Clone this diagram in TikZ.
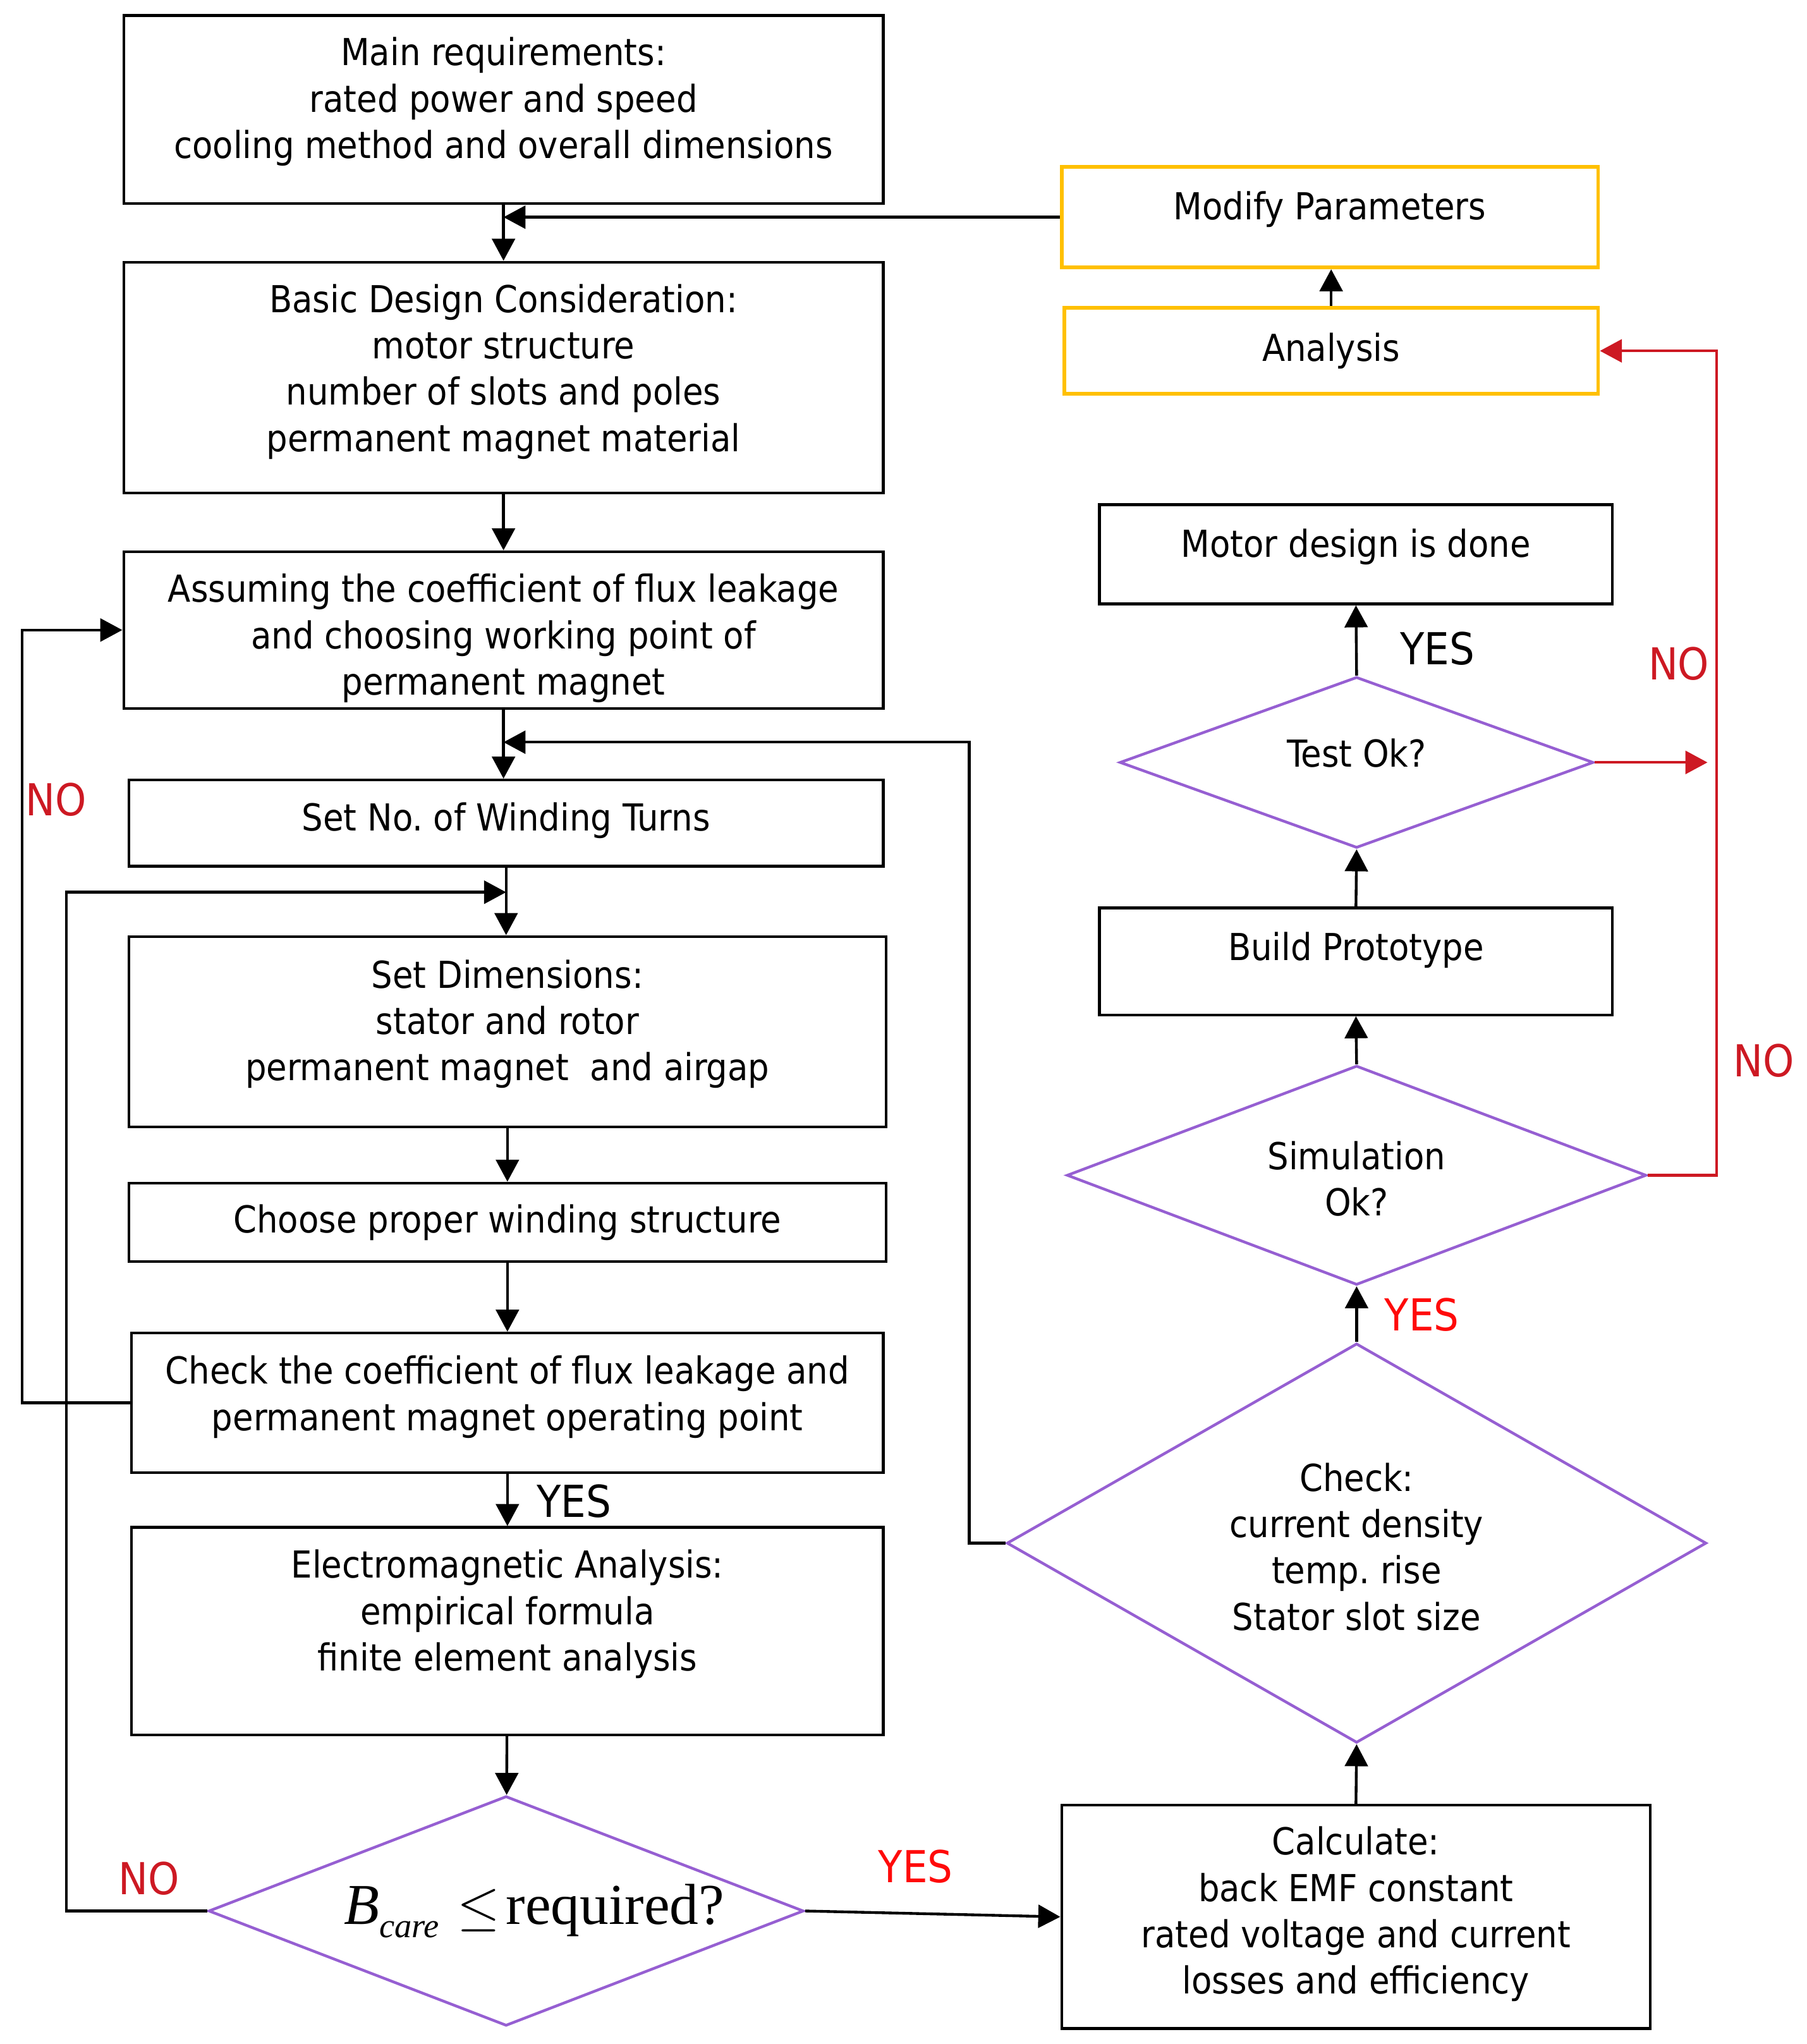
\documentclass[tikz,border=0pt]{standalone}
\usepackage{fontspec}
\setmainfont{DejaVu Sans Condensed}
\newfontfamily\timesfont{Liberation Serif}
\usetikzlibrary{shapes.geometric,arrows.meta}
\definecolor{Purp}{RGB}{150,95,210}
\definecolor{Gold}{RGB}{255,192,0}
\definecolor{Darkred}{RGB}{205,25,35}
\definecolor{Brightred}{RGB}{255,10,10}
\newcommand{\boxfont}{\fontsize{8.1}{10.1}\selectfont}
\newcommand{\lblfont}{\fontsize{9.6}{11}\selectfont}
\newcommand{\drawarrow}{\draw[-{Triangle[length=4.8pt,width=5pt]},line width=0.6pt]}

\begin{document}
\frenchspacing
\begin{tikzpicture}[x=0.01cm,y=-0.01cm,
  blk/.style={draw, line width=0.6pt, inner sep=0pt},
  ylw/.style={blk, draw=Gold, line width=0.8pt},
  dmd/.style={diamond, draw=Purp, line width=0.6pt, inner sep=0pt},
  txt/.style={align=center, inner sep=0pt, font=\boxfont},
  lbl/.style={font=\lblfont, inner sep=0pt}]
\useasboundingbox (0,0) rectangle (1385,1567);
% left column
\node[blk, minimum width=5.82cm, minimum height=1.44cm, label={[txt,yshift=1.7pt]center:{Main requirements:\\rated power and speed\\cooling method and overall dimensions}}] (req) at (386,84) {};
\node[blk, minimum width=5.82cm, minimum height=1.77cm, label={[txt,yshift=1.3pt]center:{Basic Design Consideration:\\motor structure\\number of slots and poles\\permanent magnet material}}] (basic) at (386,289.5) {};
\node[blk, minimum width=5.82cm, minimum height=1.20cm, label={[txt,yshift=-1.8pt]center:{Assuming the coefficient of flux leakage\\and choosing working point of\\permanent magnet}}] (assume) at (386,483) {};
\node[blk, minimum width=5.78cm, minimum height=0.66cm, label={[txt,yshift=0.6pt]center:{Set No. of Winding Turns}}] (turns) at (388,631) {};
\node[blk, minimum width=5.80cm, minimum height=1.46cm, label={[txt,yshift=1.7pt]center:{Set Dimensions:\\stator and rotor\\permanent magnet~ and airgap}}] (dims) at (389,791) {};
\node[blk, minimum width=5.80cm, minimum height=0.60cm, label={[txt]center:{Choose proper winding structure}}] (wind) at (389,937) {};
\node[blk, minimum width=5.76cm, minimum height=1.07cm, label={[txt,yshift=1.3pt]center:{Check the coefficient of flux leakage and\\permanent magnet operating point}}] (chk) at (389,1075.5) {};
\node[blk, minimum width=5.76cm, minimum height=1.59cm, label={[txt,yshift=3.7pt]center:{Electromagnetic Analysis:\\empirical formula\\finite element analysis}}] (em) at (389,1250.5) {};
\node[dmd, minimum width=4.56cm, minimum height=1.76cm, label={[txt,xshift=0.215cm]center:{\timesfont\fontsize{12.6}{15}\selectfont\textit{B}\raisebox{-2.8pt}{\fontsize{7.5}{8}\selectfont\textit{care}}\hspace{3.9pt}$\leq$\hspace{1.4pt}required?}}] (bcore) at (388,1465) {};
% right column
\node[blk, minimum width=4.51cm, minimum height=1.71cm, label={[txt,yshift=0.6pt]center:{Calculate:\\back EMF constant\\rated voltage and current\\losses and efficiency}}] (calc) at (1039.5,1469.5) {};
\node[dmd, minimum width=5.36cm, minimum height=3.06cm, label={[txt,yshift=-0.8pt]center:{Check:\\current density\\temp. rise\\Stator slot size}}] (check) at (1040,1183) {};
\node[dmd, minimum width=4.44cm, minimum height=1.68cm, label={[txt,yshift=-0.8pt]center:{Simulation\\Ok?}}] (sim) at (1040,901) {};
\node[blk, minimum width=3.93cm, minimum height=0.82cm, label={[txt,yshift=2.5pt]center:{Build Prototype}}] (proto) at (1039.5,737) {};
\node[dmd, minimum width=3.63cm, minimum height=1.31cm, label={[txt,yshift=2pt]center:{Test Ok?}}] (test) at (1040,584.5) {};
\node[blk, minimum width=3.93cm, minimum height=0.76cm, label={[txt,yshift=1.7pt]center:{Motor design is done}}] (done) at (1039.5,425) {};
\node[ylw, minimum width=4.09cm, minimum height=0.66cm, label={[txt]center:{Analysis}}] (anal) at (1020.5,269) {};
\node[ylw, minimum width=4.11cm, minimum height=0.77cm, label={[txt,yshift=1.7pt]center:{Modify Parameters}}] (modify) at (1019.5,166.5) {};
% joints
\coordinate (j1) at (386,569);
\coordinate (j2) at (388,684);
\coordinate (t1) at (1309,584.5);
% connectors
\drawarrow (req) -- (basic);
\drawarrow (modify.west) -- (modify.west -| req.south);
\drawarrow (basic) -- (assume);
\drawarrow (assume.south) -- (assume.south |- turns.north);
\drawarrow (check.west) -| (743,569) -- (j1);
\drawarrow (turns.south) -- (turns.south |- dims.north);
\drawarrow (bcore.west) -| (51,684) -- (j2);
\drawarrow (dims) -- (wind);
\drawarrow (wind) -- (chk);
\drawarrow (chk.west) -| (17,483) -- (assume.west);
\drawarrow (chk) -- (em);
\drawarrow (em) -- (bcore);
\drawarrow (bcore.east) -- (calc.west);
\drawarrow (calc.north) -- (check.south);
\drawarrow (check.north) -- (sim.south);
\drawarrow (sim.north) -- (proto.south);
\drawarrow (proto.north) -- (test.south);
\drawarrow (test.north) -- (done.south);
\drawarrow[Darkred] (test.east) -- (t1);
\drawarrow[Darkred] (sim.east) -| (1316,269) -- (anal.east);
\drawarrow (anal.north) -- (anal.north |- modify.south);
% labels
\node[lbl] (yes1) at (440,1151) {YES};
\node[lbl] (yes2) at (1102,497) {YES};
\node[lbl, text=Brightred] (yes3) at (702,1431) {YES};
\node[lbl, text=Brightred] (yes4) at (1090,1008) {YES};
\node[lbl, text=Darkred] (no1) at (43,613) {NO};
\node[lbl, text=Darkred] (no2) at (114,1440) {NO};
\node[lbl, text=Darkred] (no3) at (1287,509) {NO};
\node[lbl, text=Darkred] (no4) at (1352,813) {NO};
\end{tikzpicture}
\end{document}
